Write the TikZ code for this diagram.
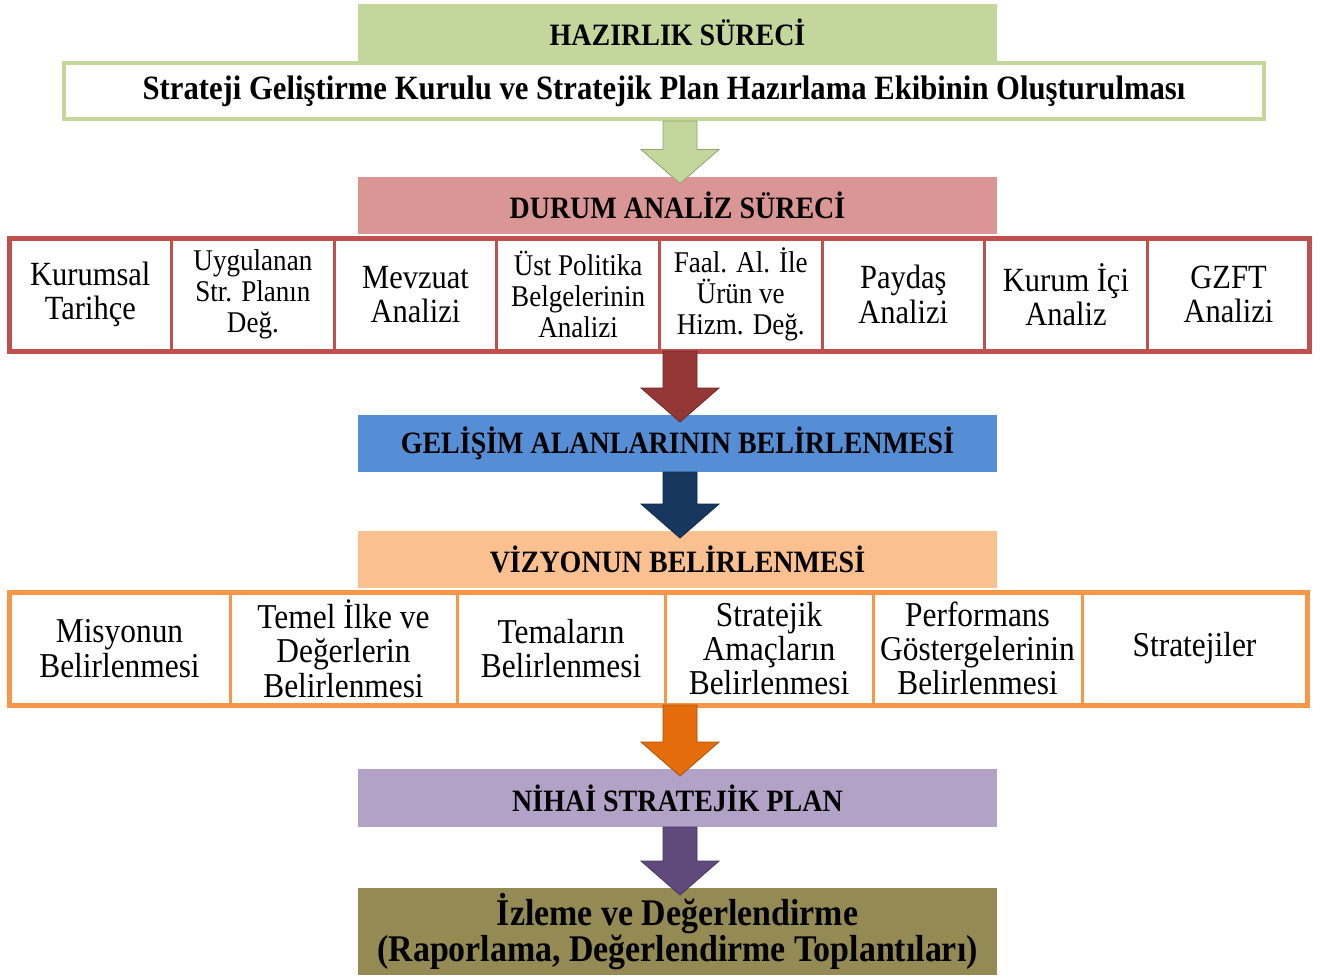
\documentclass[tikz,border=0pt]{standalone}
\usepackage{fontspec}
\setmainfont{Liberation Serif}[FakeStretch=0.9]
\usetikzlibrary{positioning,calc}

\definecolor{hazirgreen}{HTML}{C3D69B}
\definecolor{durumred}{HTML}{D99694}
\definecolor{tablered}{HTML}{C0504D}
\definecolor{gelisimblue}{HTML}{558ED5}
\definecolor{vizyonorange}{HTML}{FAC090}
\definecolor{tableorange}{HTML}{F79646}
\definecolor{nihaipurple}{HTML}{B3A2C7}
\definecolor{izlemeolive}{HTML}{948A54}
\definecolor{arrowgreen}{HTML}{C3D69B}
\definecolor{arrowred}{HTML}{953735}
\definecolor{arrownavy}{HTML}{17375E}
\definecolor{arroworange}{HTML}{E46C0A}
\definecolor{arrowpurple}{HTML}{604A7B}

% block arrow from the bottom of #1 into the top of #2
\newcommand{\blockarrow}[3]{%
	\draw[line width=0.8bp, draw=#3!75!black, fill=#3]
	($(#2.north |- #1.south)+(-14.5,0)$) -- ($(#2.north)+(-14.5,-27)$) -- ($(#2.north)+(-36.5,-27)$)
	-- ($(#2.north)+(2.5,7)$) -- ($(#2.north)+(41.5,-27)$) -- ($(#2.north)+(19.5,-27)$)
	-- ($(#2.north |- #1.south)+(19.5,0)$) -- cycle;}

\begin{document}
\begin{tikzpicture}[x=1bp,y=-1bp,
	baslik/.style={fill=#1, minimum width=639bp, minimum height=57bp, inner sep=0, outer sep=0,
		font=\fontsize{31.2}{36}\selectfont\bfseries},
	hucre/.style={draw=#1, line width=3bp, outer sep=0, inner sep=2bp, minimum height=113bp, align=center},
	kirmizi/.style={hucre=tablered, minimum width=162.6bp, font=\fontsize{34}{34.5}\selectfont},
	kucuk/.style={font=\fontsize{30.2}{31}\selectfont},
	turuncu/.style={hucre=tableorange, minimum width=#1, font=\fontsize{35}{34.5}\selectfont}]
\useasboundingbox (0,0) rectangle (1320,978);

\node[baslik=hazirgreen] (hazir) at (677.5,32.5) {HAZIRLIK SÜRECİ};
\node[draw=hazirgreen, line width=4bp, fill=white, minimum width=1200bp, minimum height=56bp,
	inner sep=0, font=\fontsize{34.2}{40}\selectfont\bfseries] (kurul) at (664,91)
	{Strateji Geliştirme Kurulu ve Stratejik Plan Hazırlama Ekibinin Oluşturulması};

\node[baslik=durumred] (durum) at (677.5,205) {DURUM ANALİZ SÜRECİ};
\node[kirmizi, anchor=west] (r1) at (9,294.5) {Kurumsal\\Tarihçe};
\node[kirmizi, kucuk, right=0pt of r1] (r2) {Uygulanan\\Str. Planın\\Değ.};
\node[kirmizi, right=0pt of r2] (r3) {Mevzuat\\Analizi};
\node[kirmizi, kucuk, right=0pt of r3] (r4) {Üst Politika\\Belgelerinin\\Analizi};
\node[kirmizi, kucuk, right=0pt of r4] (r5) {Faal. Al. İle\\Ürün ve\\Hizm. Değ.};
\node[kirmizi, right=0pt of r5] (r6) {Paydaş\\Analizi};
\node[kirmizi, right=0pt of r6] (r7) {Kurum İçi\\Analiz};
\node[kirmizi, right=0pt of r7] (r8) {GZFT\\Analizi};
\draw[tablered, line width=5bp] (r1.north west) rectangle (r8.south east);

\node[baslik=gelisimblue] (gelisim) at (677.5,443.5) {GELİŞİM ALANLARININ BELİRLENMESİ};

\node[baslik=vizyonorange] (vizyon) at (677.5,559.5) {VİZYONUN BELİRLENMESİ};
\node[turuncu=221bp, anchor=west] (o1) at (9,648.5) {Misyonun\\Belirlenmesi};
\node[turuncu=227bp, right=0pt of o1] (o2) {Temel İlke ve\\Değerlerin\\Belirlenmesi};
\node[turuncu=208bp, right=0pt of o2] (o3) {Temaların\\Belirlenmesi};
\node[turuncu=208bp, right=0pt of o3] (o4) {Stratejik\\Amaçların\\Belirlenmesi};
\node[turuncu=209bp, right=0pt of o4] (o5) {Performans\\Göstergelerinin\\Belirlenmesi};
\node[turuncu=225bp, right=0pt of o5] (o6) {Stratejiler};
\draw[tableorange, line width=5bp] (o1.north west) rectangle (o6.south east);

\node[baslik=nihaipurple, minimum height=58bp] (nihai) at (677.5,798) {NİHAİ STRATEJİK PLAN};
\node[baslik=izlemeolive, minimum height=87bp, align=center,
	font=\fontsize{37.8}{37}\selectfont\bfseries] (izleme) at (677.5,931.5)
	{İzleme ve Değerlendirme\\(Raporlama, Değerlendirme Toplantıları)};

\blockarrow{kurul}{durum}{arrowgreen}
\blockarrow{r1}{gelisim}{arrowred}
\blockarrow{gelisim}{vizyon}{arrownavy}
\blockarrow{o1}{nihai}{arroworange}
\blockarrow{nihai}{izleme}{arrowpurple}
\end{tikzpicture}
\end{document}
